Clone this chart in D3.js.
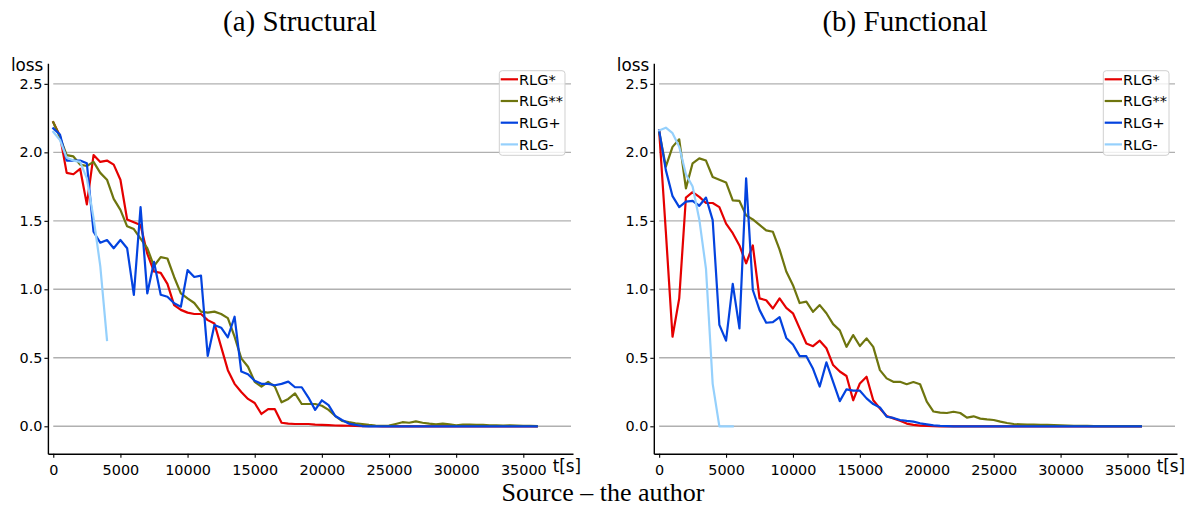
<!DOCTYPE html>
<html>
<head>
<meta charset="utf-8">
<script src="https://cdn.jsdelivr.net/npm/d3@7"></script>
<style>
body { margin: 0; background: white; }
</style>
</head>
<body>
<script>
const largeur = 1197;
const hauteur = 506;

// temps en secondes, un point toutes les 500 s
const temps = [
    0, 500, 1000, 1500, 2000, 2500, 3000, 3500, 4000, 4500,
    5000, 5500, 6000, 6500, 7000, 7500, 8000, 8500, 9000, 9500,
    10000, 10500, 11000, 11500, 12000, 12500, 13000, 13500, 14000, 14500,
    15000, 15500, 16000, 16500, 17000, 17500, 18000, 18500, 19000, 19500,
    20000, 20500, 21000, 21500, 22000, 22500, 23000, 23500, 24000, 24500,
    25000, 25500, 26000, 26500, 27000, 27500, 28000, 28500, 29000, 29500,
    30000, 30500, 31000, 31500, 32000, 32500, 33000, 33500, 34000, 34500,
    35000, 35500, 36000
];

// (a) Structural
const structEtoile = [
    2.22, 2.12, 1.85, 1.84, 1.88, 1.62, 1.98, 1.93, 1.94, 1.91,
    1.80, 1.51, 1.49, 1.47, 1.26, 1.13, 1.12, 1.04, 0.885, 0.85,
    0.83, 0.82, 0.82, 0.775, 0.75, 0.58, 0.41, 0.31, 0.25, 0.20,
    0.17, 0.09, 0.125, 0.125, 0.026, 0.02, 0.017, 0.017, 0.017, 0.012,
    0.01, 0.008, 0.006, 0.005, 0.004, 0.003, 0.002, 0.001, 0.001, 0,
    0, 0, 0, 0, 0, 0, 0, 0, 0, 0,
    0, 0, 0, 0, 0, 0, 0, 0, 0, 0,
    0, 0, 0
];
const structDeuxEtoiles = [
    2.22, 2.11, 1.98, 1.97, 1.91, 1.90, 1.93, 1.85, 1.80, 1.66,
    1.58, 1.46, 1.44, 1.37, 1.30, 1.17, 1.235, 1.225, 1.09, 0.97,
    0.934, 0.90, 0.837, 0.83, 0.837, 0.82, 0.79, 0.654, 0.496, 0.435,
    0.325, 0.29, 0.325, 0.29, 0.175, 0.20, 0.24, 0.163, 0.163, 0.163,
    0.15, 0.12, 0.075, 0.04, 0.03, 0.022, 0.017, 0.01, 0.005, 0.004,
    0.005, 0.017, 0.03, 0.026, 0.036, 0.026, 0.019, 0.014, 0.02, 0.014,
    0.007, 0.012, 0.012, 0.01, 0.01, 0.007, 0.007, 0.005, 0.007, 0.005,
    0.004, 0.003, 0.002
];
const structPlus = [
    2.175, 2.13, 1.94, 1.94, 1.94, 1.92, 1.42, 1.34, 1.36, 1.30,
    1.36, 1.30, 0.96, 1.60, 0.97, 1.20, 0.96, 0.946, 0.898, 0.873,
    1.14, 1.09, 1.10, 0.514, 0.74, 0.72, 0.65, 0.80, 0.40, 0.38,
    0.333, 0.31, 0.31, 0.30, 0.31, 0.326, 0.285, 0.285, 0.21, 0.12,
    0.19, 0.155, 0.075, 0.046, 0.02, 0.01, 0.002, 0, 0, 0,
    0, 0, 0, 0, 0, 0, 0, 0, 0, 0,
    0, 0, 0, 0, 0, 0, 0, 0, 0, 0,
    0, 0, 0
];
const structMoins = [2.15, 2.09, 1.96, 1.94, 1.93, 1.81, 1.52, 1.17, 0.63];

// (b) Functional
const fonctEtoile = [
    2.16, 1.42, 0.654, 0.934, 1.67, 1.71, 1.675, 1.63, 1.63, 1.60,
    1.48, 1.41, 1.32, 1.19, 1.32, 0.934, 0.92, 0.86, 0.934, 0.865,
    0.825, 0.715, 0.605, 0.585, 0.625, 0.57, 0.447, 0.40, 0.367, 0.19,
    0.313, 0.362, 0.19, 0.13, 0.075, 0.058, 0.04, 0.02, 0.01, 0.005,
    0.003, 0.001, 0, 0, 0, 0, 0, 0, 0, 0,
    0, 0, 0, 0, 0, 0, 0, 0, 0, 0,
    0, 0, 0, 0, 0, 0, 0, 0, 0, 0,
    0, 0, 0
];
const fonctDeuxEtoiles = [
    2.15, 1.895, 2.04, 2.095, 1.737, 1.92, 1.956, 1.94, 1.82, 1.80,
    1.78, 1.65, 1.645, 1.54, 1.51, 1.47, 1.43, 1.42, 1.29, 1.13,
    1.03, 0.90, 0.91, 0.836, 0.885, 0.825, 0.746, 0.70, 0.58, 0.666,
    0.586, 0.642, 0.58, 0.41, 0.35, 0.325, 0.325, 0.307, 0.323, 0.307,
    0.18, 0.108, 0.10, 0.097, 0.106, 0.097, 0.063, 0.073, 0.056, 0.05,
    0.046, 0.034, 0.024, 0.017, 0.014, 0.012, 0.012, 0.01, 0.01, 0.008,
    0.007, 0.005, 0.004, 0.003, 0.003, 0.002, 0.002, 0.002, 0.002, 0.002,
    0.002, 0.002, 0.002
];
const fonctPlus = [
    2.16, 1.87, 1.68, 1.60, 1.64, 1.645, 1.61, 1.67, 1.505, 0.74,
    0.625, 1.04, 0.715, 1.81, 0.995, 0.85, 0.756, 0.76, 0.797, 0.645,
    0.597, 0.512, 0.512, 0.42, 0.29, 0.467, 0.325, 0.184, 0.27, 0.26,
    0.26, 0.204, 0.162, 0.138, 0.07, 0.061, 0.046, 0.039, 0.034, 0.022,
    0.014, 0.007, 0.003, 0.001, 0, 0, 0, 0, 0, 0,
    0, 0, 0, 0, 0, 0, 0, 0, 0, 0,
    0, 0, 0, 0, 0, 0, 0, 0, 0, 0,
    0, 0, 0
];
const fonctMoins = [2.16, 2.18, 2.14, 2.04, 1.84, 1.75, 1.51, 1.15, 0.31, 0, 0, 0];

const noms = ["RLG*", "RLG**", "RLG+", "RLG-"];
const couleurs = ["#e50000", "#6e750e", "#0343df", "#95d0fc"];
const titres = ["(a) Structural", "(b) Functional"];
const ticksY = [0, 0.5, 1, 1.5, 2, 2.5];
const ticksX = [0, 5000, 10000, 15000, 20000, 25000, 30000, 35000];

const svg = d3
.select("body")
.append("svg")
.attr("width", largeur)
.attr("height", hauteur);

const y = d3.scaleLinear()
.domain([-0.2, 2.65])
.range([453.7, 63.3]);

const panneaux = [
    { titre: titres[0], gauche: 47.9, droite: 573, centre: 300, series: [structEtoile, structDeuxEtoiles, structPlus, structMoins] },
    { titre: titres[1], gauche: 653.8, droite: 1177, centre: 905, series: [fonctEtoile, fonctDeuxEtoiles, fonctPlus, fonctMoins] }
];

panneaux.forEach(function(p)
{
    dessiner(p);
});

svg.append("text")
.attr("x", 603)
.attr("y", 501)
.attr("text-anchor", "middle")
.style("font-family", "'Liberation Serif', 'Times New Roman', serif")
.style("font-size", "26px")
.text("Source – the author");

function dessiner(p)
{
    const x = d3.scaleLinear()
    .domain([-400, 38700])
    .range([p.gauche, p.droite]);

    const g = svg.append("g");

    // grille horizontale
    g.selectAll("line.grille")
    .data(ticksY)
    .enter()
    .append("line")
    .attr("class", "grille")
    .attr("x1", x(0))
    .attr("x2", x(38550))
    .attr("y1", function(d) { return y(d); })
    .attr("y2", function(d) { return y(d); })
    .attr("stroke", "#b0b0b0")
    .attr("stroke-width", 1.4);

    const axeY = g.append("g")
    .attr("transform", "translate(" + x(-400) + ",0)")
    .call(d3.axisLeft(y).tickValues(ticksY).tickFormat(d3.format(".1f")).tickSize(3.5).tickPadding(2).tickSizeOuter(0));

    const axeX = g.append("g")
    .attr("transform", "translate(0," + y(-0.2) + ")")
    .call(d3.axisBottom(x).tickValues(ticksX).tickFormat(d3.format("d")).tickSize(4).tickPadding(7.5).tickSizeOuter(0));

    [axeY, axeX].forEach(function(a)
    {
        a.attr("font-family", "'DejaVu Sans', sans-serif")
        .attr("font-size", "14.4px");
        a.selectAll("text").attr("fill", "#000");
        a.selectAll("line").attr("stroke", "#000").attr("stroke-width", 1.1);
        a.select(".domain").attr("stroke", "#000").attr("stroke-width", 1.4);
    });

    // libellés des axes
    g.append("text")
    .attr("x", x(-400) - 4.6)
    .attr("y", 70.7)
    .attr("text-anchor", "end")
    .style("font-family", "'DejaVu Sans', sans-serif")
    .style("font-size", "16.8px")
    .text("loss");

    g.append("text")
    .attr("x", x(38700) - 20.3)
    .attr("y", 471.5)
    .style("font-family", "'DejaVu Sans', sans-serif")
    .style("font-size", "16.8px")
    .text("t[s]");

    // titre
    g.append("text")
    .attr("x", p.centre)
    .attr("y", 31)
    .attr("text-anchor", "middle")
    .style("font-family", "'Liberation Serif', 'Times New Roman', serif")
    .style("font-size", "29px")
    .text(p.titre);

    // courbes
    const ligne = d3.line()
    .x(function(d, i) { return x(temps[i]); })
    .y(function(d) { return y(d); });

    g.selectAll("path.courbe")
    .data(p.series)
    .enter()
    .append("path")
    .attr("class", "courbe")
    .attr("d", ligne)
    .attr("fill", "none")
    .attr("stroke", function(d, i) { return couleurs[i]; })
    .attr("stroke-width", 2.2)
    .attr("stroke-linejoin", "round")
    .attr("stroke-linecap", "square");

    // légende
    const lx = p.droite - 73.7;
    const ly = 70.7;

    const legende = g.append("g")
    .attr("transform", "translate(" + lx + "," + ly + ")");

    legende.append("rect")
    .attr("width", 65.7)
    .attr("height", 84.6)
    .attr("rx", 3)
    .attr("fill", "white")
    .attr("fill-opacity", 0.8)
    .attr("stroke", "#d0d0d0")
    .attr("stroke-width", 1);

    noms.forEach(function(nom, i)
    {
        const cy = 8.6 + i * 21.7;

        legende.append("line")
        .attr("x1", 1.4)
        .attr("x2", 18.7)
        .attr("y1", cy)
        .attr("y2", cy)
        .attr("stroke", couleurs[i])
        .attr("stroke-width", 2.2);

        legende.append("text")
        .attr("x", 19.7)
        .attr("y", cy + 5.3)
        .style("font-family", "'DejaVu Sans', sans-serif")
        .style("font-size", "14.5px")
        .text(nom);
    });
}
</script>
</body>
</html>
